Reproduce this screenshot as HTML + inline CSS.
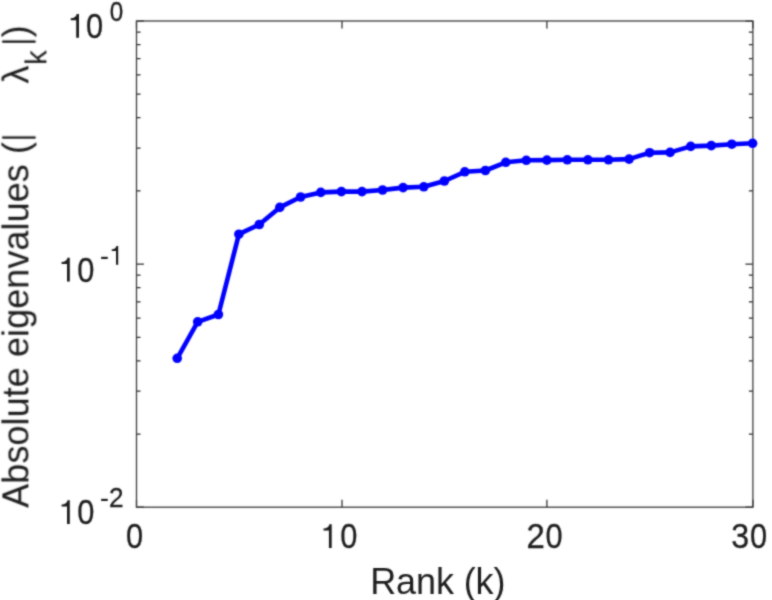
<!DOCTYPE html>
<html><head><meta charset="utf-8"><title>Absolute eigenvalues</title>
<style>html,body{margin:0;padding:0;background:#fff;overflow:hidden}svg{display:block}text{font-family:"Liberation Sans",sans-serif;fill:#1c1c1c}</style>
</head><body>
<svg width="772" height="600" viewBox="0 0 772 600">
<defs><filter id="soft" x="0" y="0" width="772" height="600" filterUnits="userSpaceOnUse"><feConvolveMatrix order="5" kernelMatrix="0.0002 0.0027 0.0092 0.0027 0.0002 0.0027 0.0324 0.1098 0.0324 0.0027 0.0092 0.1098 0.3721 0.1098 0.0092 0.0027 0.0324 0.1098 0.0324 0.0027 0.0002 0.0027 0.0092 0.0027 0.0002" divisor="1" edgeMode="none" preserveAlpha="false"/></filter></defs>
<rect x="0" y="0" width="772" height="600" fill="#ffffff"/>
<g filter="url(#soft)">
<path d="M136.50 21.00h7.40M752.90 21.00h-7.40M136.50 507.20v-7.40M752.90 507.20v-7.40M136.50 21.00v7.40M752.90 21.00v7.40M136.50 264.10h7.40M752.90 264.10h-7.40M136.50 190.92h4.00M752.90 190.92h-4.00M136.50 148.11h4.00M136.50 117.74h4.00M752.90 117.74h-4.00M136.50 94.18h4.00M752.90 94.18h-4.00M136.50 74.93h4.00M752.90 74.93h-4.00M136.50 58.66h4.00M752.90 58.66h-4.00M136.50 44.56h4.00M752.90 44.56h-4.00M136.50 32.12h4.00M752.90 32.12h-4.00M136.50 507.20h7.40M752.90 507.20h-7.40M136.50 434.02h4.00M752.90 434.02h-4.00M136.50 391.21h4.00M752.90 391.21h-4.00M136.50 360.84h4.00M752.90 360.84h-4.00M136.50 337.28h4.00M752.90 337.28h-4.00M136.50 318.03h4.00M752.90 318.03h-4.00M136.50 301.76h4.00M752.90 301.76h-4.00M136.50 287.66h4.00M752.90 287.66h-4.00M136.50 275.22h4.00M752.90 275.22h-4.00M342.00 507.20v-7.40M342.00 21.00v7.40M546.90 507.20v-7.40M546.90 21.00v7.40" stroke="#2a2a2a" stroke-width="1.25" fill="none"/>
<rect x="136.50" y="21.00" width="616.40" height="486.20" fill="none" stroke="#404040" stroke-width="1.35"/>
<path d="M177.2 358.3 L197.7 321.8 L218.4 314.5 L238.9 234.2 L259.3 224.5 L279.8 207.4 L300.6 197.0 L320.8 192.4 L341.4 191.6 L362.0 191.6 L382.6 190.0 L403.1 187.6 L423.8 186.8 L444.4 181.0 L464.8 171.8 L485.4 170.5 L505.8 162.3 L526.3 160.3 L546.9 160.1 L567.3 159.8 L587.9 159.8 L608.5 159.8 L629.1 159.1 L649.6 152.7 L670.1 152.4 L690.7 146.4 L711.3 145.6 L731.8 144.2 L752.6 143.3" fill="none" stroke="#0000ff" stroke-width="4.6" stroke-linejoin="round" stroke-linecap="round"/>
<circle cx="177.2" cy="358.3" r="4.8" fill="#0000ff"/>
<circle cx="197.7" cy="321.8" r="4.8" fill="#0000ff"/>
<circle cx="218.4" cy="314.5" r="4.8" fill="#0000ff"/>
<circle cx="238.9" cy="234.2" r="4.8" fill="#0000ff"/>
<circle cx="259.3" cy="224.5" r="4.8" fill="#0000ff"/>
<circle cx="279.8" cy="207.4" r="4.8" fill="#0000ff"/>
<circle cx="300.6" cy="197.0" r="4.8" fill="#0000ff"/>
<circle cx="320.8" cy="192.4" r="4.8" fill="#0000ff"/>
<circle cx="341.4" cy="191.6" r="4.8" fill="#0000ff"/>
<circle cx="362.0" cy="191.6" r="4.8" fill="#0000ff"/>
<circle cx="382.6" cy="190.0" r="4.8" fill="#0000ff"/>
<circle cx="403.1" cy="187.6" r="4.8" fill="#0000ff"/>
<circle cx="423.8" cy="186.8" r="4.8" fill="#0000ff"/>
<circle cx="444.4" cy="181.0" r="4.8" fill="#0000ff"/>
<circle cx="464.8" cy="171.8" r="4.8" fill="#0000ff"/>
<circle cx="485.4" cy="170.5" r="4.8" fill="#0000ff"/>
<circle cx="505.8" cy="162.3" r="4.8" fill="#0000ff"/>
<circle cx="526.3" cy="160.3" r="4.8" fill="#0000ff"/>
<circle cx="546.9" cy="160.1" r="4.8" fill="#0000ff"/>
<circle cx="567.3" cy="159.8" r="4.8" fill="#0000ff"/>
<circle cx="587.9" cy="159.8" r="4.8" fill="#0000ff"/>
<circle cx="608.5" cy="159.8" r="4.8" fill="#0000ff"/>
<circle cx="629.1" cy="159.1" r="4.8" fill="#0000ff"/>
<circle cx="649.6" cy="152.7" r="4.8" fill="#0000ff"/>
<circle cx="670.1" cy="152.4" r="4.8" fill="#0000ff"/>
<circle cx="690.7" cy="146.4" r="4.8" fill="#0000ff"/>
<circle cx="711.3" cy="145.6" r="4.8" fill="#0000ff"/>
<circle cx="731.8" cy="144.2" r="4.8" fill="#0000ff"/>
<circle cx="752.6" cy="143.3" r="4.8" fill="#0000ff"/>
<path transform="translate(68.29 37.90) scale(0.01538 -0.01748)" d="M515 12L696 12L696 1372L552 1372C514 1226 385 1132 162 1126L162 1012L515 1012Z" fill="#1c1c1c"/>
<text transform="translate(86.00 37.90) scale(0.860 1)" font-size="35.80" stroke="#1c1c1c" stroke-width="0.3">0</text>
<text transform="translate(109.86 21.10) scale(0.860 1)" font-size="28.20" stroke="#1c1c1c" stroke-width="0.3">0</text>
<path transform="translate(59.09 281.70) scale(0.01538 -0.01748)" d="M515 12L696 12L696 1372L552 1372C514 1226 385 1132 162 1126L162 1012L515 1012Z" fill="#1c1c1c"/>
<text transform="translate(77.22 281.70) scale(0.860 1)" font-size="35.80" stroke="#1c1c1c" stroke-width="0.3">0</text>
<text transform="translate(99.94 264.60) scale(0.950 1)" font-size="28.20" stroke="#1c1c1c" stroke-width="0">-</text>
<path transform="translate(59.09 524.20) scale(0.01538 -0.01748)" d="M515 12L696 12L696 1372L552 1372C514 1226 385 1132 162 1126L162 1012L515 1012Z" fill="#1c1c1c"/>
<text transform="translate(77.22 524.20) scale(0.860 1)" font-size="35.80" stroke="#1c1c1c" stroke-width="0.3">0</text>
<text transform="translate(99.94 507.10) scale(0.950 1)" font-size="28.20" stroke="#1c1c1c" stroke-width="0">-</text>
<path transform="translate(109.77 264.90) scale(0.01212 -0.01377)" d="M515 12L696 12L696 1372L552 1372C514 1226 385 1132 162 1126L162 1012L515 1012Z" fill="#1c1c1c"/>
<text transform="translate(109.11 507.20) scale(0.930 1)" font-size="28.20" stroke="#1c1c1c" stroke-width="0.3">2</text>
<text transform="translate(126.11 548.20) scale(0.860 1)" font-size="35.80" stroke="#1c1c1c" stroke-width="0.3">0</text>
<path transform="translate(320.99 548.20) scale(0.01538 -0.01748)" d="M515 12L696 12L696 1372L552 1372C514 1226 385 1132 162 1126L162 1012L515 1012Z" fill="#1c1c1c"/>
<text transform="translate(340.17 548.20) scale(0.860 1)" font-size="35.80" stroke="#1c1c1c" stroke-width="0.3">0</text>
<text transform="translate(526.51 548.20) scale(0.920 1)" font-size="35.80" stroke="#1c1c1c" stroke-width="0.3">2</text>
<text transform="translate(545.44 548.20) scale(0.860 1)" font-size="35.80" stroke="#1c1c1c" stroke-width="0.3">0</text>
<text transform="translate(731.33 548.20) scale(0.900 1)" font-size="35.80" stroke="#1c1c1c" stroke-width="0.3">3</text>
<text transform="translate(750.11 548.20) scale(0.860 1)" font-size="35.80" stroke="#1c1c1c" stroke-width="0.3">0</text>
<text x="437.8" y="593.5" font-size="36.0" text-anchor="middle" letter-spacing="-0.1">Rank (k)</text>
<g transform="translate(28.4 507.8) rotate(-90)">
<text x="0" y="0" font-size="36.0" letter-spacing="0.07">Absolute eigenvalues (</text>
<rect x="369.15" y="-26.2" width="2.3" height="33.4" fill="#1c1c1c"/>
<rect x="465.05" y="-26.2" width="2.3" height="33.4" fill="#1c1c1c"/>
<text x="424.2" y="0" font-size="36.0">λ</text>
<text x="443.1" y="18" font-size="29.0">k</text>
<text x="470.5" y="0" font-size="36.0">)</text>
</g>
</g>
</svg></body></html>
